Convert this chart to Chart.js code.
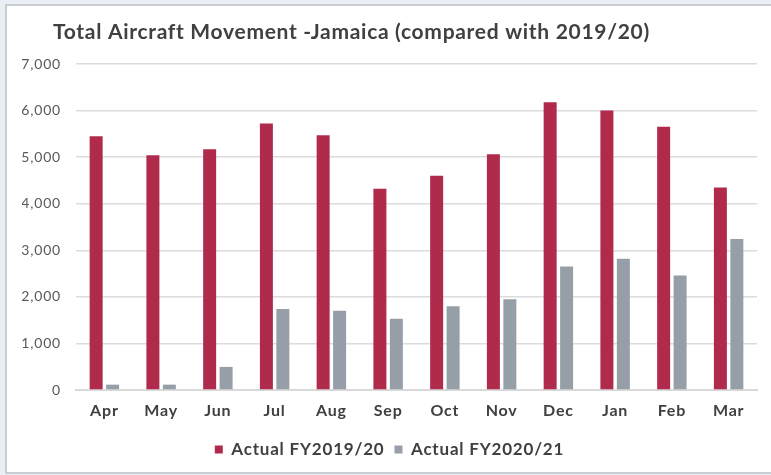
<!DOCTYPE html>
<html>
<head>
<meta charset="utf-8">
<script src="https://cdn.jsdelivr.net/npm/chart.js@4/dist/chart.umd.min.js"></script>
<style>
  html, body { margin: 0; padding: 0; }
  body { width: 771px; height: 475px; background: #e9eff4; position: relative; overflow: hidden; }
  .panel { position: absolute; left: 5px; top: 4px; width: 780px; height: 466px; background: #fff; border: 2px solid #c9cdd2; }
  #movement { position: absolute; left: 0; top: 0; }
</style>
</head>
<body>
<div class="panel"></div>
<canvas id="movement" width="771" height="475"></canvas>
<script>
const months = ['Apr', 'May', 'Jun', 'Jul', 'Aug', 'Sep', 'Oct', 'Nov', 'Dec', 'Jan', 'Feb', 'Mar'];
const fy2019 = [5450, 5040, 5170, 5720, 5470, 4320, 4600, 5060, 6180, 6000, 5650, 4350];
const fy2020 = [115, 115, 495, 1740, 1700, 1530, 1800, 1950, 2650, 2820, 2460, 3240];
const seriesNames = ['Actual FY2019/20', 'Actual FY2020/21'];
const chartTitle = 'Total Aircraft Movement -Jamaica (compared with 2019/20)';

const FONT = 'Lato, "Open Sans", sans-serif';

// a little tracking on all chart text so Lato runs as wide as the original face
const tracking = {
  id: 'tracking',
  beforeUpdate(chart) { chart.ctx.letterSpacing = '0.8px'; },
  beforeDraw(chart) { chart.ctx.letterSpacing = '0.8px'; }
};

// title sits left-aligned above the plot, independent of the axis layout
const headline = {
  id: 'headline',
  afterDraw(chart) {
    const c = chart.ctx;
    c.save();
    c.font = 'bold 21px ' + FONT;
    c.letterSpacing = '0.7px';
    c.fillStyle = '#404040';
    c.textBaseline = 'alphabetic';
    c.fillText(chartTitle, 53, 39);
    c.restore();
  }
};

const ctx = document.getElementById('movement');

new Chart(ctx, {
  type: 'bar',
  data: {
    labels: months,
    datasets: [{
      label: seriesNames[0],
      data: fy2019,
      backgroundColor: '#b02b4b',
      categoryPercentage: 0.58,
      barPercentage: 0.79
    },
    {
      label: seriesNames[1],
      data: fy2020,
      backgroundColor: '#969fa7',
      categoryPercentage: 0.58,
      barPercentage: 0.79
    }]
  },
  options: {
    responsive: false,
    animation: false,
    layout: {
      padding: { top: 64, left: 22, right: 14, bottom: 7 }
    },
    plugins: {
      title: { display: false },
      tooltip: { enabled: false },
      legend: {
        position: 'bottom',
        labels: {
          boxWidth: 8,
          boxHeight: 8,
          padding: 10,
          color: '#404040',
          font: { family: FONT, size: 17, weight: 'bold' }
        }
      }
    },
    scales: {
      x: {
        grid: { display: false, drawTicks: false },
        border: { display: true, color: '#d9d9d9', width: 2 },
        ticks: {
          padding: 11,
          color: '#404040',
          font: { family: FONT, size: 16, weight: 'bold' }
        },
        afterFit(scale) { scale.height = 41; }
      },
      y: {
        min: 0,
        max: 7000,
        grid: { color: '#dcdcdc', lineWidth: 1.5, drawTicks: false },
        border: { display: false },
        ticks: {
          stepSize: 1000,
          padding: 15,
          color: '#595959',
          font: { family: FONT, size: 14 },
          callback: (v) => v.toLocaleString('en-US')
        },
        afterFit(scale) { scale.width = 54; }
      }
    }
  },
  plugins: [tracking, headline]
});
</script>
</body>
</html>
